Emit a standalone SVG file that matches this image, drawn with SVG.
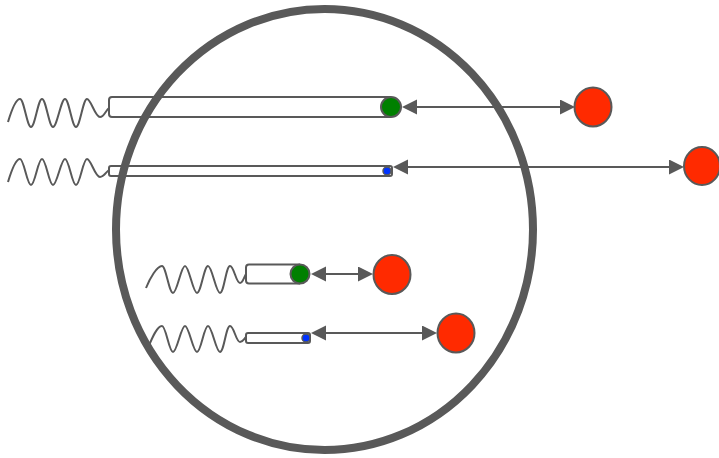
<svg xmlns="http://www.w3.org/2000/svg" width="719" height="458" viewBox="0 0 719 458">
<style>
.ln{fill:none;stroke:#595959;stroke-width:2}
.wv{fill:none;stroke:#595959;stroke-width:2;stroke-linejoin:round}
.bx{fill:none;stroke:#595959;stroke-width:2}
.red{fill:#ff2a00;stroke:#595959;stroke-width:2}
.grn{fill:#008000;stroke:#595959;stroke-width:2}
.blu{fill:#0033ff;stroke:#595959;stroke-width:1.5}
.arr{fill:none;stroke:#595959;stroke-width:2;marker-start:url(#ah);marker-end:url(#ah)}
</style>
<defs>
<marker id="ah" markerUnits="userSpaceOnUse" markerWidth="16" markerHeight="16" refX="13" refY="7.5" orient="auto-start-reverse">
<path d="M0,0 L15,7.5 L0,15 z" fill="#595959"/>
</marker>
</defs>
<g id="cell">
<ellipse cx="324.5" cy="229.5" rx="208.5" ry="220.5" fill="none" stroke="#595959" stroke-width="8"/>
</g>
<g id="receptor1">
<path class="wv" d="M8,122 C11,112 16,99 20,99 C24,99 27,127 31,127 C35,127 38,99 42,99 C46,99 49,127 53,127 C57,127 61,99 65,99 C69,99 72,127 76,127 C80,127 83,99 87,99 C91,99 95,117 100,117 C104,117 106,110 109,108"/>
<path class="bx" d="M391,97 H112 Q109,97 109,100 V114 Q109,117 112,117 H391"/>
<circle class="grn" cx="391" cy="107" r="10"/>
</g>
<g id="receptor2">
<path class="wv" d="M8,182 C11,172 16,159 20,159 C24,159 27,185 31,185 C35,185 38,159 42,159 C46,159 49,185 53,185 C57,185 61,159 65,159 C69,159 72,185 76,185 C80,185 83,159 87,159 C91,159 95,177 100,177 C104,177 106,172 109,170"/>
<rect class="bx" x="109" y="166" width="283" height="10" rx="2"/>
<circle class="blu" cx="387" cy="171" r="4"/>
</g>
<g id="receptor3">
<path class="wv" d="M146,288 C150,278 157,266 162,266 C166,266 169,293 173,293 C177,293 181,266 185,266 C189,266 193,293 197,293 C201,293 204,266 208,266 C212,266 216,293 220,293 C224,293 226,266 230,266 C234,266 236,283 240,283 C243,283 244,277 246,274"/>
<path class="bx" d="M300,264.5 H249 Q246,264.5 246,267.5 V280.5 Q246,283.5 249,283.5 H300"/>
<circle class="grn" cx="300" cy="274" r="9.5"/>
</g>
<g id="receptor4">
<path class="wv" d="M148,348 C152,338 157,326 162,326 C166,326 169,352 173,352 C177,352 181,326 185,326 C189,326 193,352 197,352 C201,352 204,326 208,326 C212,326 216,352 220,352 C224,352 226,326 230,326 C234,326 236,342 240,342 C243,342 244,339 246,337"/>
<rect class="bx" x="246" y="333" width="64" height="10" rx="2"/>
<circle class="blu" cx="306" cy="338" r="4"/>
</g>
<g id="ligand1"><ellipse class="red" cx="593" cy="107" rx="18.5" ry="19.5"/></g>
<g id="ligand2"><ellipse class="red" cx="702" cy="166" rx="18" ry="19"/></g>
<g id="ligand3"><ellipse class="red" cx="392" cy="274.5" rx="18.5" ry="19.5"/></g>
<g id="ligand4"><ellipse class="red" cx="456" cy="333" rx="18.5" ry="19.5"/></g>
<g id="connectors">
<line class="arr" x1="404" y1="107" x2="573" y2="107"/>
<line class="arr" x1="395" y1="167" x2="682" y2="167"/>
<line class="arr" x1="313" y1="274" x2="371" y2="274"/>
<line class="arr" x1="313" y1="333" x2="435" y2="333"/>
</g>
</svg>
